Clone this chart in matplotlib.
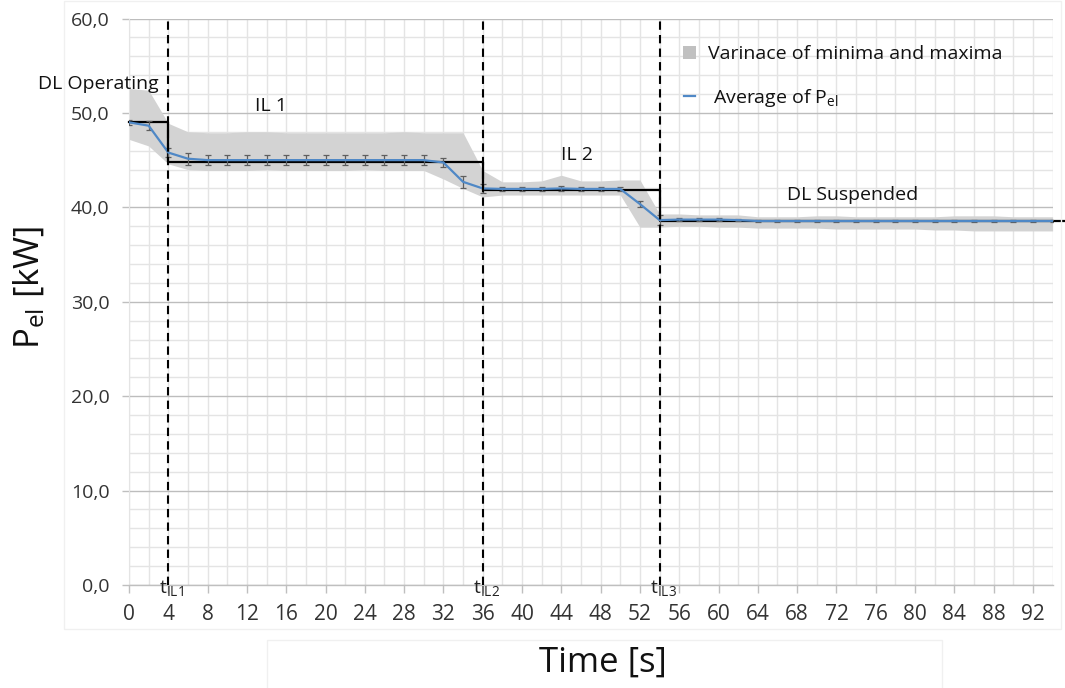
import matplotlib
matplotlib.use("Agg")
import matplotlib.pyplot as plt
import matplotlib.transforms as mtransforms
from matplotlib.patches import Rectangle
from matplotlib.lines import Line2D
from matplotlib.ticker import MultipleLocator, FixedLocator

plt.rcParams["font.family"] = ["Open Sans", "DejaVu Sans"]
plt.rcParams["mathtext.fontset"] = "custom"
plt.rcParams["mathtext.rm"] = "Open Sans"
plt.rcParams["mathtext.it"] = "Open Sans:italic"

# Measurement time stamps [s]
time_s = [0, 2, 4, 6, 8, 10, 12, 14, 16, 18, 20, 22, 24, 26, 28, 30,
          32, 34, 36, 38, 40, 42, 44, 46, 48, 50, 52, 54, 56, 58, 60, 62,
          64, 66, 68, 70, 72, 74, 76, 78, 80, 82, 84, 86, 88, 90, 92, 94]

# Average electrical power [kW]
avg_power = [49.0, 48.65, 45.8, 45.15, 45.0, 45.0, 45.0, 45.0, 45.0, 45.0, 45.0, 45.0, 45.0, 45.0, 45.0, 45.0,
             44.75, 42.7, 42.0, 41.95, 41.95, 41.95, 42.0, 41.95, 41.95, 41.95, 40.35, 38.65, 38.7, 38.7, 38.7, 38.65,
             38.55, 38.55, 38.55, 38.55, 38.55, 38.55, 38.55, 38.55, 38.55, 38.55, 38.55, 38.55, 38.55, 38.55, 38.55, 38.55]

# Standard deviation shown as error bars [kW]
std_power = [0.3, 0.45, 0.5, 0.65, 0.55, 0.55, 0.5, 0.55, 0.5, 0.55, 0.55, 0.5, 0.55, 0.5, 0.5, 0.5,
             0.45, 0.65, 0.5, 0.25, 0.25, 0.2, 0.25, 0.2, 0.25, 0.2, 0.3, 0.5, 0.12, 0.12, 0.12, 0.12,
             0.12, 0.12, 0.12, 0.12, 0.12, 0.12, 0.12, 0.12, 0.12, 0.12, 0.12, 0.12, 0.12, 0.12, 0.12, 0.12]

# Envelope of minima and maxima [kW]
max_power = [52.6, 52.4, 48.9, 48.0, 47.9, 47.9, 48.0, 48.0, 47.9, 47.9, 47.9, 47.9, 47.9, 47.9, 48.0, 47.9,
             47.9, 47.9, 43.9, 42.7, 42.7, 42.8, 43.4, 42.8, 42.8, 42.9, 42.9, 39.3, 39.3, 39.2, 39.2, 39.2,
             39.0, 39.0, 39.0, 39.1, 39.1, 39.0, 39.0, 39.0, 39.0, 39.0, 39.1, 39.1, 39.1, 39.0, 39.0, 39.0]
min_power = [47.2, 46.5, 44.6, 44.0, 43.9, 43.9, 43.9, 44.0, 43.9, 43.9, 43.9, 43.9, 44.0, 43.9, 43.9, 43.9,
             43.0, 42.0, 41.1, 41.3, 41.3, 41.3, 41.3, 41.3, 41.3, 41.3, 37.9, 37.9, 38.0, 38.0, 37.9, 37.9,
             37.8, 37.8, 37.8, 37.8, 37.7, 37.7, 37.7, 37.7, 37.7, 37.6, 37.6, 37.5, 37.5, 37.5, 37.5, 37.5]

# Nominal power level per operating phase
phase_start = [0, 4, 36, 54, 95.3]
phase_level = [49.0, 44.85, 41.87, 38.5, 38.5]

# Switching instants and their labels
switch_times = [4, 36, 54]
switch_labels = [r"t$_{\mathregular{IL1}}$", r"t$_{\mathregular{IL2}}$", r"t$_{\mathregular{IL3}}$"]

# Phase names
phase_names = ["DL Operating", "IL 1", "IL 2", "DL Suspended"]

x_ticks = list(range(0, 93, 4))
y_ticks = [0, 10, 20, 30, 40, 50, 60]

W, H = 1065, 688
fig = plt.figure(figsize=(W / 100, H / 100), dpi=100)
px = mtransforms.Affine2D().scale(1 / W, -1 / H).translate(0, 1) + fig.transFigure

ax = fig.add_axes([129 / W, (H - 585) / H, 923.6 / W, (585 - 18.5) / H])
ax.set_xlim(0, 94)
ax.set_ylim(0, 60)

# grid
ax.xaxis.set_major_locator(FixedLocator(x_ticks))
ax.xaxis.set_minor_locator(MultipleLocator(2))
ax.yaxis.set_major_locator(FixedLocator(y_ticks))
ax.yaxis.set_minor_locator(MultipleLocator(2))
ax.set_axisbelow(True)
ax.grid(which="major", axis="y", color="#BDBDBD", lw=1.0)
ax.grid(which="minor", axis="y", color="#E4E4E4", lw=1.0)
ax.grid(which="both", axis="x", color="#E4E4E4", lw=1.0)

for side in ("top", "right"):
    ax.spines[side].set_visible(False)
ax.spines["bottom"].set_color("#BFBFBF")
ax.spines["bottom"].set_linewidth(1.0)
ax.spines["left"].set_color("#E4E4E4")

ax.tick_params(which="major", axis="x", length=6, color="#BFBFBF", width=1.0,
               pad=8, labelsize=15, labelcolor="#333333")
ax.tick_params(which="major", axis="y", length=5, color="#BFBFBF", width=1.0,
               pad=9, labelsize=14, labelcolor="#333333")
ax.tick_params(which="minor", length=0)
ax.set_xticklabels([str(v) for v in x_ticks])
ax.set_yticklabels([f"{v:.1f}".replace(".", ",") for v in y_ticks])

# min/max envelope
ax.fill_between(time_s, min_power, max_power, color="#D3D3D3", lw=0, zorder=2)

# nominal step line
ax.plot(phase_start, phase_level, drawstyle="steps-post", color="black",
        lw=1.6, zorder=4, clip_on=False)

# averaged measurement with error bars
ax.errorbar(time_s, avg_power, yerr=std_power, color="#4F88C6", lw=1.6,
            ecolor="#5E5E5E", elinewidth=0.9, capsize=2.5, capthick=0.9, zorder=5)

# switching instants
for xs, lab in zip(switch_times, switch_labels):
    ax.axvline(xs, color="black", lw=1.5, ls=(0, (4, 2.5)), zorder=6)
    ax.annotate(lab, xy=(xs, 0), xytext=(2.5, -6), textcoords="offset points",
                ha="center", va="baseline", fontsize=14, color="#222222",
                annotation_clip=False)

# phase names
phase_pos = [(-3.15, 52.5), (14.45, 50.2), (45.6, 45.0), (73.6, 40.8)]
for name, (xp, yp) in zip(phase_names, phase_pos):
    ax.text(xp, yp, name, ha="center", va="baseline", fontsize=14,
            color="#111111", clip_on=False, zorder=7)

# legend
fig.add_artist(Rectangle((683, 46), 13, 13, transform=px, facecolor="#C0C0C0",
                         edgecolor="none"))
fig.text(708, 59, "Varinace of minima and maxima", transform=px, fontsize=14,
         color="#111111", va="baseline")
fig.add_artist(Line2D([684, 695], [96, 96], transform=px, color="#4F88C6", lw=1.6))
fig.text(713, 103, r"Average of P$_{\mathregular{el}}$", transform=px, fontsize=14,
         color="#111111", va="baseline")

# faint frames
fig.add_artist(Rectangle((64, 1), 997, 628, transform=px, facecolor="none",
                         edgecolor="#F0F0F0", lw=1.0))
fig.add_artist(Rectangle((267, 640), 675, 53, transform=px, facecolor="none",
                         edgecolor="#F0F0F0", lw=1.0))

# axis titles
fig.text(30, 287, r"P$_{\mathregular{el}}$ [kW]", transform=px, fontsize=25,
         rotation=90, ha="center", va="center", color="#111111")
fig.text(603, 663, "Time [s]", transform=px, fontsize=25, ha="center",
         va="center", color="#111111")

fig.savefig("out.png", dpi=100, facecolor="white")
